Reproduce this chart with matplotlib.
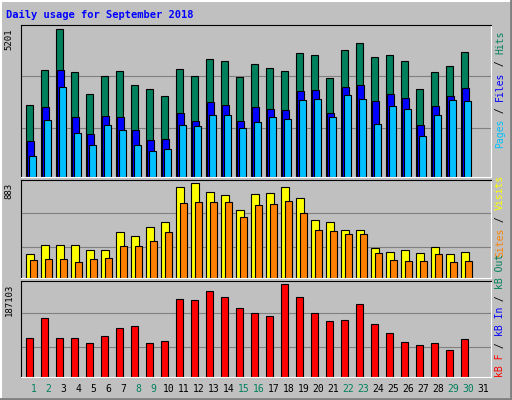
import matplotlib
matplotlib.use("Agg")
import matplotlib.pyplot as plt

days = list(range(1, 32))
hits = [2553,3754,5201,3683,2906,3542,3718,3224,3083,2836,3789,3542,4142,4071,3507,3965,3824,3718,4354,4283,3471,4460,4707,4213,4283,4071,3083,3683,3895,4389]
files = [1283,2448,3754,2130,1530,2165,2130,1671,1318,1353,2271,1989,2624,2553,1989,2448,2412,2377,3012,3048,2271,3154,3224,2659,2906,2765,1847,2483,2836,3118]
pages = [753,2024,3154,1565,1141,1847,1671,1141,930,1000,1847,1812,2200,2200,1742,1953,2130,2059,2695,2730,2130,2871,2730,1883,2518,2412,1459,2200,2695,2659]
visits = [228,305,305,305,257,257,430,392,478,527,854,883,806,777,633,787,796,845,748,546,527,450,450,276,247,257,238,286,228,247]
sites = [170,180,180,151,180,189,295,295,344,430,700,710,710,710,565,681,690,719,604,450,440,411,411,238,170,161,161,228,151,161]
kbytes = [78531,119500,78531,78531,68290,82630,99020,103116,68290,72387,158430,156380,172770,162530,139990,129750,123600,187103,162530,129750,113360,115410,148185,107210,88775,70337,64190,68290,53947,76483]
weekend = [1,2,8,9,15,16,22,23,29,30]

W, H = 512, 400
fig = plt.figure(figsize=(W/100, H/100), dpi=100, facecolor='#C0C0C0')
BG = '#C0C0C0'
mono = 'DejaVu Sans Mono'

# bevel borders
fig.add_artist(plt.Line2D([0, 1], [1-0.5/H, 1-0.5/H], color='white', lw=1.5))
fig.add_artist(plt.Line2D([0.5/W, 0.5/W], [0, 1], color='white', lw=1.5))
fig.add_artist(plt.Line2D([1-1/W, 1-1/W], [0, 1], color='#808080', lw=2))
fig.add_artist(plt.Line2D([0, 1], [1/H, 1/H], color='#808080', lw=2))

def mk(y0, y1):
    ax = fig.add_axes([21/W, 1-y1/H, 470/W, (y1-y0)/H], facecolor=BG)
    ax.set_xlim(0.18, 31.51)
    ax.set_xticks([]); ax.set_yticks([])
    for s in ax.spines.values():
        s.set_color('black'); s.set_linewidth(0.8)
    ax.spines['right'].set_color('white'); ax.spines['bottom'].set_color('white')
    return ax

n = len(hits)
x = days[:n]
ek = dict(edgecolor='black', linewidth=0.8, align='edge')

ax1 = mk(25, 177)
ax1.set_ylim(0, 5353)
for g in (1743, 3543): ax1.axhline(g, color='#808080', lw=0.8, zorder=0)
ax1.bar([d-0.51 for d in x], hits, 0.47, color='#00805C', **ek)
ax1.bar([d-0.40 for d in x], files, 0.47, color='#0000FF', **ek)
ax1.bar([d-0.27 for d in x], pages, 0.47, color='#00C0FF', **ek)

ax2 = mk(180, 278)
ax2.set_ylim(0, 915)
for g in (286, 604): ax2.axhline(g, color='#808080', lw=0.8, zorder=0)
ax2.bar([d-0.51 for d in x], visits, 0.53, color='#FFFF00', **ek)
ax2.bar([d-0.24 for d in x], sites, 0.47, color='#FF8000', **ek)

ax3 = mk(281, 377)
ax3.set_ylim(0, 193858)
for g in (60185, 128350): ax3.axhline(g, color='#808080', lw=0.8, zorder=0)
ax3.bar([d-0.51 for d in x], kbytes, 0.47, color='#FF0000', **ek)

fig.text(6/W, 1-15/H, 'Daily usage for September 2018', color='#0000FF', fontsize=7.5,
         fontweight='bold', family=mono, va='center')

for d in days:
    fig.text((33.3+(d-1)*15)/W, 1-389/H, str(d), ha='center', va='center', fontsize=7,
             family=mono, color='#00805C' if d in weekend else 'black')

for txt, yy in (('5201', 28), ('883', 183), ('187103', 284)):
    fig.text(9/W, 1-yy/H, txt, rotation=90, ha='center', va='top', fontsize=6.5, family=mono)

FS = 7
STEP = 0.602 * FS * 100 / 72

def side(parts, ybot):
    y = ybot
    for t, c in parts:
        fig.text(500/W, 1-y/H, t, rotation=90, ha='center', va='bottom', fontsize=FS,
                 family=mono, color=c)
        y -= len(t) * STEP

side([('Pages', '#00C0FF'), (' / ', 'black'), ('Files', '#0000FF'), (' / ', 'black'), ('Hits', '#00805C')], 148)
side([('Sites', '#FF8000'), (' / ', 'black'), ('Visits', '#FFFF00')], 257)
side([('kB F', '#FF0000'), (' / ', 'black'), ('kB In', '#0000FF'), (' / ', 'black'), ('kB Out', '#00805C')], 377)

fig.savefig('out.png', dpi=100, facecolor=fig.get_facecolor())
